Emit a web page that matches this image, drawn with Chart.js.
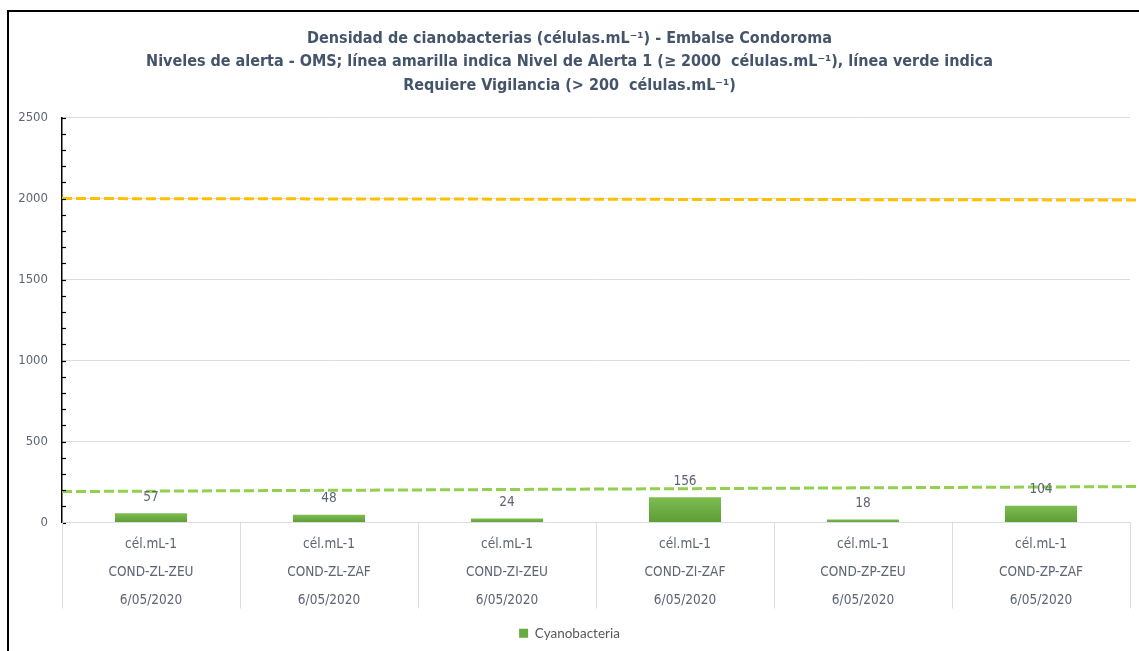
<!DOCTYPE html>
<html>
<head>
<meta charset="utf-8">
<script src="https://cdn.jsdelivr.net/npm/chart.js@4.4.1/dist/chart.umd.min.js"></script>
<style>
html, body { margin: 0; padding: 0; background: #fff; overflow: hidden; width: 1139px; height: 651px; }
#frame { position: absolute; left: 7px; top: 10px; width: 1200px; height: 700px; border-left: 2px solid #000; border-top: 2px solid #000; }
#wrap { position: absolute; left: 9px; top: 12px; width: 1140px; height: 639px; }
</style>
</head>
<body>
<div id="frame"></div>
<div id="wrap"><canvas id="c"></canvas></div>
<script>
// category rows (multi-level x axis)
var units = ['cél.mL-1', 'cél.mL-1', 'cél.mL-1', 'cél.mL-1', 'cél.mL-1', 'cél.mL-1'];
var sites = ['COND-ZL-ZEU', 'COND-ZL-ZAF', 'COND-ZI-ZEU', 'COND-ZI-ZAF', 'COND-ZP-ZEU', 'COND-ZP-ZAF'];
var dates = ['6/05/2020', '6/05/2020', '6/05/2020', '6/05/2020', '6/05/2020', '6/05/2020'];

// cyanobacteria density (cells/mL)
var cyano = [57, 48, 24, 156, 18, 104];

// reference lines (start / end of the plot width)
var lineX = [0, 1.01];
var alertLevel1 = [2000, 1991];
var vigilance = [191, 222];

var yMax = 2500;
var yMajor = 500;
var yMinor = 100;

var narrow = "'Liberation Sans Narrow', 'Arial Narrow', 'DejaVu Sans Condensed', sans-serif";
var textGray = '#5d6473';
var gridGray = '#d9dde3';

var labels = [];
for (var i = 0; i < sites.length; i++) {
    labels.push([units[i], sites[i], dates[i]]);
}

function toPoints(xs, ys) {
    var pts = [];
    for (var i = 0; i < xs.length; i++) pts.push({ x: xs[i], y: ys[i] });
    return pts;
}

function barFill(context) {
    var chart = context.chart;
    var y = chart.scales.y;
    if (!chart.chartArea || !y || context.raw == null) return '#6aab3e';
    var top = y.getPixelForValue(context.raw);
    var bottom = y.getPixelForValue(0);
    if (!isFinite(top) || bottom - top < 1) return '#6aab3e';
    var g = chart.ctx.createLinearGradient(0, top, 0, bottom);
    g.addColorStop(0, '#7dbd52');
    g.addColorStop(1, '#5e9c34');
    return g;
}

var valueLabels = {
    id: 'valueLabels',
    afterDatasetsDraw: function(chart) {
        var ctx = chart.ctx;
        var meta = chart.getDatasetMeta(0);
        ctx.save();
        ctx.fillStyle = textGray;
        ctx.font = '13.5px ' + narrow;
        ctx.textAlign = 'center';
        ctx.textBaseline = 'middle';
        meta.data.forEach(function(bar, i) {
            ctx.fillText(cyano[i], bar.x, bar.y - 16);
        });
        ctx.restore();
    }
};

// short ticks on the y axis and category separators under the x axis
var axisMarks = {
    id: 'axisMarks',
    afterDraw: function(chart) {
        var ctx = chart.ctx;
        var s = chart.scales.y;
        ctx.save();
        ctx.strokeStyle = '#000';
        ctx.lineWidth = 1.2;
        s.ticks.forEach(function(t) {
            var y = Math.round(s.getPixelForValue(t.value)) + 0.5;
            ctx.beginPath();
            ctx.moveTo(s.right, y);
            ctx.lineTo(s.right + 4, y);
            ctx.stroke();
        });
        var x = chart.scales.x;
        ctx.strokeStyle = gridGray;
        ctx.lineWidth = 1;
        for (var i = 0; i <= labels.length; i++) {
            var px = Math.round(x.getPixelForValue(i - 0.5)) + 0.5;
            ctx.beginPath();
            ctx.moveTo(px, x.top);
            ctx.lineTo(px, x.top + 86);
            ctx.stroke();
        }
        ctx.restore();
    }
};

new Chart(document.getElementById('c'), {
    data: {
        labels: labels,
        datasets: [
            {
                type: 'bar',
                label: 'Cyanobacteria',
                data: cyano,
                backgroundColor: barFill,
                barPercentage: 0.405,
                categoryPercentage: 1,
                grouped: false,
                xAxisID: 'x',
                order: 2
            },
            {
                type: 'line',
                label: 'Nivel de Alerta 1',
                data: toPoints(lineX, alertLevel1),
                xAxisID: 'xl',
                borderColor: '#ffc000',
                borderWidth: 3,
                borderDash: [10, 4],
                pointRadius: 0,
                fill: false,
                clip: false,
                order: 1
            },
            {
                type: 'line',
                label: 'Requiere Vigilancia',
                data: toPoints(lineX, vigilance),
                xAxisID: 'xl',
                borderColor: '#92d050',
                borderWidth: 3,
                borderDash: [10, 4],
                pointRadius: 0,
                fill: false,
                clip: false,
                order: 1
            }
        ]
    },
    options: {
        responsive: true,
        maintainAspectRatio: false,
        animation: false,
        layout: { padding: { left: 0, right: 19, top: 0, bottom: 1 } },
        plugins: {
            title: {
                display: true,
                text: [
                    'Densidad de cianobacterias (células.mL⁻¹) - Embalse Condoroma',
                    'Niveles de alerta - OMS; línea amarilla indica Nivel de Alerta 1 (≥ 2000  células.mL⁻¹), línea verde indica',
                    'Requiere Vigilancia (> 200  células.mL⁻¹)'
                ],
                color: '#44546a',
                font: { family: narrow, size: 16, weight: 'bold', lineHeight: 1.47 },
                padding: { top: 15, bottom: 20 }
            },
            legend: {
                position: 'bottom',
                labels: {
                    color: '#595959',
                    font: { family: 'Lato, sans-serif', size: 13.5 },
                    boxWidth: 9,
                    boxHeight: 9,
                    padding: 10,
                    generateLabels: function(chart) {
                        return [{
                            text: 'Cyanobacteria',
                            fillStyle: '#6aab3e',
                            strokeStyle: '#6aab3e',
                            lineWidth: 0,
                            datasetIndex: 0,
                            fontColor: '#595959'
                        }];
                    }
                }
            },
            tooltip: { enabled: false }
        },
        scales: {
            x: {
                type: 'category',
                offset: true,
                afterFit: function(s) { s.height = 94; },
                grid: {
                    display: true,
                    drawOnChartArea: false,
                    drawTicks: false
                },
                border: { color: gridGray, width: 1 },
                ticks: {
                    color: textGray,
                    font: { family: narrow, size: 13.5, lineHeight: 2.07 },
                    padding: 8,
                    autoSkip: false,
                    maxRotation: 0
                }
            },
            xl: {
                type: 'linear',
                display: false,
                min: 0,
                max: 1
            },
            y: {
                min: 0,
                max: yMax,
                afterFit: function(s) { s.width = 53; },
                grid: {
                    drawTicks: false,
                    color: function(c) { return c.tick && c.tick.value % yMajor === 0 ? gridGray : 'rgba(0,0,0,0)'; }
                },
                border: { color: '#000', width: 1.5 },
                ticks: {
                    stepSize: yMinor,
                    autoSkip: false,
                    padding: 14,
                    color: textGray,
                    font: { family: narrow, size: 13 },
                    callback: function(v) { return v % yMajor === 0 ? v : ''; }
                }
            }
        }
    },
    plugins: [valueLabels, axisMarks]
});
</script>
</body>
</html>
